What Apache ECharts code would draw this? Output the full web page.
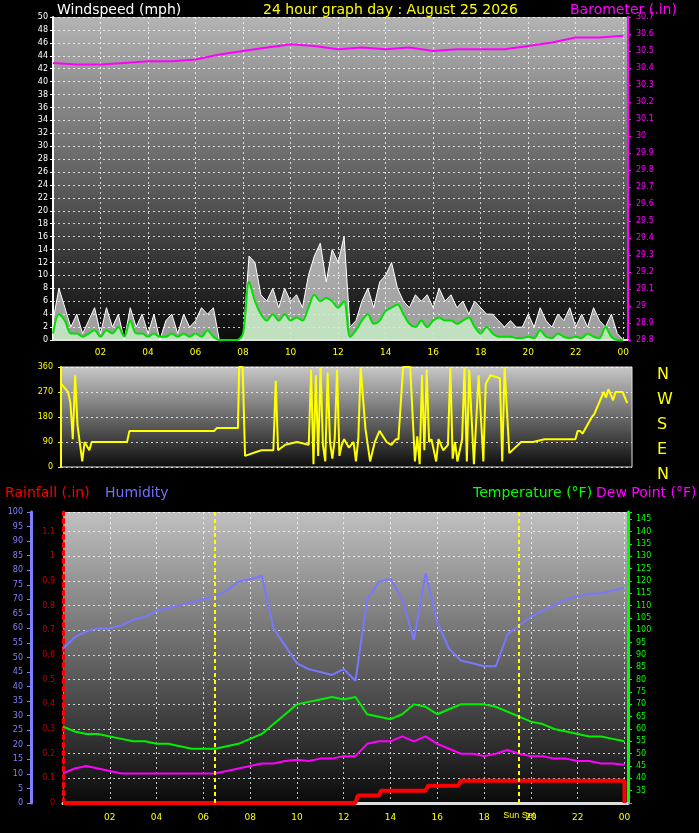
<!DOCTYPE html>
<html>
<head>
<meta charset="UTF-8">
<script src="https://cdn.jsdelivr.net/npm/echarts@6/dist/echarts.min.js"></script>
<style>body{margin:0;background:#000}#main{width:699px;height:833px}</style>
</head>
<body>
<div id="main"></div>
<script>
// wind every 15 min, 00:00 -> 24:00
const gust = [3,8,5,2,4,1,3,5, 1,5,2,4,0,5,2,4, 1,4,0,3,4,1,4,2, 3,5,4,5,0,0,0,0,
  0,13,12,7,6,8,5,8, 6,7,5,10,13,15,9,14, 12,16,2,3,6,8,5,9, 10,12,8,6,5,7,6,7,
  5,8,6,7,5,6,4,6, 5,4,4,3,2,3,2,2, 4,2,5,3,2,4,3,5, 2,4,2,5,3,2,4,1, 0];
const avgWind = [1,4,3,1,1,0.5,1,1.5, 0.5,1.5,1,2,0.5,3,1,1, 0.5,1,0.5,0.5,1,0.5,1,0.5, 1,0.5,1.5,0.5,0,0,0,0,
  1,9,6,4,3,4,3,4, 3,3.5,3,5,7,6,6.5,6, 5,6,0.5,1.5,3,4,2.5,3, 4.5,5,5.5,4,2.5,2,3,2,
  3,3.5,3,3,2.5,3,3.5,2, 1,2,1,0.5,0.5,0.5,0.3,0.3, 0.5,0.3,1.5,0.5,0.3,1,0.5,0.3, 0.5,0.3,1,0.5,0.3,2,0.5,0, 0];
const baroHours = [0,1,2,3,4,5,6,7,8,9,9.5,10,11,12,13,14,15,16,17,18,19,20,21,22,23,24];
const baro = [30.43,30.42,30.42,30.43,30.44,30.44,30.45,30.48,30.50,30.52,30.53,30.54,30.53,30.51,30.52,30.51,30.52,30.50,30.51,30.51,30.51,30.53,30.55,30.58,30.58,30.59];
const dirHours = [0,0.3,0.4,0.5,0.6,0.7,0.9,1.0,1.2,1.3,2.8,2.9,6.5,6.6,7.5,7.55,7.7,7.8,8.3,8.5,9.0,9.1,9.2,9.5,10.0,10.5,
  10.6,10.7,10.8,10.9,11.0,11.1,11.2,11.3,11.4,11.5,11.6,11.7,11.8,11.9,12.0,12.2,12.4,12.5,12.6,12.7,12.9,13.1,13.3,13.5,13.8,14.0,
  14.2,14.3,14.5,14.8,15.0,15.1,15.2,15.3,15.4,15.5,15.6,15.7,15.9,16.0,16.2,16.4,16.5,16.6,16.7,16.8,17.0,17.1,17.2,17.3,17.5,17.7,
  17.9,18.0,18.2,18.6,18.7,18.8,19.0,19.5,20.0,20.5,21.0,21.8,21.9,22.0,22.1,22.5,22.6,23.0,23.1,23.2,23.4,23.5,23.8,24.0];
const dirVals = [300,270,230,100,330,150,20,90,60,90,90,130,130,140,140,360,360,40,55,60,60,310,60,80,90,80,
  350,10,330,40,360,80,20,340,90,30,100,350,40,80,100,70,90,20,100,360,140,20,90,130,90,80,
  100,100,360,360,20,110,10,330,60,350,90,100,20,100,60,80,360,30,90,20,100,360,20,350,10,330,
  20,300,330,320,20,360,50,90,90,100,100,100,130,130,120,180,190,270,250,280,240,270,270,230,210];
// half-hourly
const humidity = [53,57,59,60,60,61,63,64,66,67,68,69,70,71,73,76,77,78,60,54,48,46,45,44,46,42,70,76,77,70,56,79,62,53,49,48,47,47,
  58,61,64,66,68,70,71,72,72,73,74];
const temp = [61,59,58,58,57,56,55,55,54,54,53,52,52,52,53,54,56,58,62,66,70,71,72,73,72,73,66,65,64,66,70,69,66,68,70,70,70,69,67,65,63,62,60,59,58,57,57,56,55];
const dew = [42,44,45,44,43,42,42,42,42,42,42,42,42,42,43,44,45,46,46,47,47.5,47,48,48,49,49,54,55,55,57,55,57,54,52,50,50,49,50,51.5,50,49,49,48,48,47,47,46,46,45.5];
const rainHours = [0,12.5,12.6,13.5,13.6,15.5,15.6,16.9,17.0,24.0,24.0];
const rain = [0,0,0.03,0.03,0.05,0.05,0.07,0.07,0.09,0.09,0];

const q = i => i * 0.25, h = i => i * 0.5;
const pair = (xs, ys) => ys.map((v, i) => [xs(i), v]);
const grad = (a, b) => new echarts.graphic.LinearGradient(0, 0, 0, 1, [{offset: 0, color: a}, {offset: 1, color: b}]);
const dotted = {show: true, lineStyle: {color: 'rgba(255,255,255,0.75)', type: [2, 3]}};
const lbl = c => ({color: c, fontSize: 9, fontFamily: 'DejaVu Sans'});
const hourFmt = v => v === 0 ? '' : String(v % 24).padStart(2, '0');
const ttl = (text, left, top, color) => ({text, left, top, textStyle: {color, fontSize: 14, fontWeight: 'normal', fontFamily: 'DejaVu Sans'}});

const chart = echarts.init(document.getElementById('main'));
chart.setOption({
  backgroundColor: '#000',
  animation: false,
  title: [
    ttl('Windspeed (mph)', 52, -2, '#fff'),
    ttl('24 hour graph day : August 25 2026', 258, -2, '#ff0'),
    ttl('Barometer (.in)', 565, -2, '#f0f'),
    {text: 'N\nW\nS\nE\nN', left: 652, top: 357, textStyle: {color: '#ff0', fontSize: 16, fontWeight: 'normal', lineHeight: 25, fontFamily: 'DejaVu Sans'}},
    ttl('Rainfall (.in)', 0, 481, '#f00'),
    ttl('Humidity', 100, 481, '#7070ff'),
    ttl('Temperature (°F)', 468, 481, '#0f0'),
    ttl('Dew Point (°F)', 591, 481, '#f0f')
  ],
  grid: [
    {left: 53, right: 71, top: 17, height: 323, show: true, borderWidth: 0, backgroundColor: grad('#b4b4b4', '#0c0c0c')},
    {left: 61, right: 67, top: 367, height: 100, show: true, borderColor: '#ddd', borderWidth: 1, backgroundColor: grad('#c8c8c8', '#0c0c0c')},
    {left: 63, right: 71, top: 512, height: 291, show: true, borderWidth: 0, backgroundColor: grad('#c0c0c0', '#0a0a0a')}
  ],
  xAxis: [
    {gridIndex: 0, type: 'value', min: 0, max: 24.2, interval: 2, axisLine: {lineStyle: {color: '#ddd', width: 2}}, axisTick: {show: false},
      axisLabel: {...lbl('#ff0'), formatter: hourFmt, showMaxLabel: false}, splitLine: dotted},
    {gridIndex: 1, type: 'value', min: 0, max: 24.2, interval: 2, axisLine: {show: false}, axisTick: {show: false}, axisLabel: {show: false}, splitLine: {show: false}},
    {gridIndex: 2, type: 'value', min: 0, max: 24.15, interval: 2, axisLine: {lineStyle: {color: '#ddd', width: 3}}, axisTick: {show: false},
      axisLabel: {...lbl('#ff0'), formatter: hourFmt, showMaxLabel: false, margin: 10}, splitLine: dotted}
  ],
  yAxis: [
    {gridIndex: 0, type: 'value', min: 0, max: 50, interval: 2, axisLine: {show: true, lineStyle: {color: '#fff', width: 2}},
      axisTick: {show: true, length: 3, lineStyle: {color: '#fff'}}, axisLabel: {...lbl('#fff'), fontSize: 8, margin: 5}, splitLine: dotted},
    {gridIndex: 0, type: 'value', position: 'right', min: 28.8, max: 30.7, interval: 0.1, axisLine: {show: true, lineStyle: {color: '#f0f', width: 2}},
      axisTick: {show: true, length: 3, lineStyle: {color: '#f0f'}}, axisLabel: {...lbl('#f0f'), fontSize: 8, formatter: v => +v.toFixed(1)}, splitLine: {show: false}},
    {gridIndex: 1, type: 'value', min: 0, max: 360, interval: 90, axisLine: {show: true, lineStyle: {color: '#ff0', width: 2}},
      axisTick: {show: true, length: 3, lineStyle: {color: '#ff0'}}, axisLabel: {...lbl('#ff0'), fontSize: 8}, splitLine: dotted},
    {gridIndex: 2, type: 'value', position: 'left', min: 0, max: 1.18, interval: 0.1, axisLine: {show: true, lineStyle: {color: '#f00', width: 3, type: [4, 4]}},
      axisTick: {show: false}, axisLabel: {...lbl('#c00000'), fontSize: 8, showMaxLabel: false, formatter: v => v > 1.15 ? '' : +v.toFixed(1)}, splitLine: dotted},
    {gridIndex: 2, type: 'value', position: 'left', min: 0, max: 100, interval: 5, offset: 32, axisLine: {show: true, lineStyle: {color: '#8080ff', width: 3}},
      axisTick: {show: true, length: 4, lineStyle: {color: '#8080ff'}}, axisLabel: {...lbl('#8080ff'), fontSize: 8}, splitLine: {show: false}},
    {gridIndex: 2, type: 'value', position: 'right', min: 30, max: 148, interval: 5, axisLine: {show: true, lineStyle: {color: '#0f0', width: 3}},
      axisTick: {show: true, length: 4, lineStyle: {color: '#0f0'}}, axisLabel: {...lbl('#0f0'), fontSize: 8, formatter: v => (v < 35 || v > 145) ? '' : v}, splitLine: {show: false}}
  ],
  series: [
    {type: 'line', xAxisIndex: 0, yAxisIndex: 0, data: pair(q, gust), symbol: 'none', lineStyle: {color: '#fff', width: 1}, areaStyle: {color: 'rgba(255,255,255,0.85)'}},
    {type: 'line', xAxisIndex: 0, yAxisIndex: 0, data: pair(q, avgWind), symbol: 'none', smooth: 0.3, lineStyle: {color: '#00e000', width: 2}, areaStyle: {color: '#c8f0c8', opacity: 0.8}},
    {type: 'line', xAxisIndex: 0, yAxisIndex: 1, data: pair(i => baroHours[i], baro), symbol: 'none', lineStyle: {color: '#f0f', width: 2}},
    {type: 'line', xAxisIndex: 1, yAxisIndex: 2, data: pair(i => dirHours[i], dirVals), symbol: 'none', lineStyle: {color: '#ff0', width: 2}},
    {type: 'line', xAxisIndex: 2, yAxisIndex: 4, data: pair(h, humidity), symbol: 'none', lineStyle: {color: '#7878ff', width: 2}},
    {type: 'line', xAxisIndex: 2, yAxisIndex: 5, data: pair(h, temp), symbol: 'none', lineStyle: {color: '#00f000', width: 2}},
    {type: 'line', xAxisIndex: 2, yAxisIndex: 5, data: pair(h, dew), symbol: 'none', lineStyle: {color: '#f0f', width: 2}},
    {type: 'line', xAxisIndex: 2, yAxisIndex: 3, data: pair(i => rainHours[i], rain), symbol: 'none', lineStyle: {color: '#f00', width: 4},
      markLine: {symbol: 'none', silent: true, lineStyle: {color: '#ff0', type: [4, 3], width: 2},
        label: {show: true, position: 'start', color: '#ff0', fontSize: 9, distance: 8, formatter: p => p.value > 12 ? 'Sun Set' : ''},
        data: [{xAxis: 6.5}, {xAxis: 19.5}]}}
  ]
});
</script>
</body>
</html>
